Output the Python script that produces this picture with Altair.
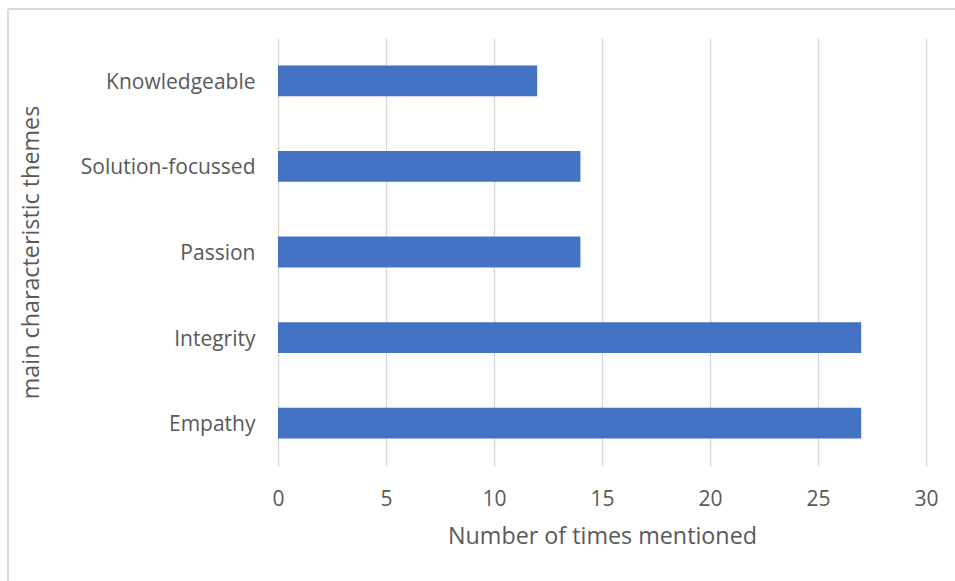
import altair as alt
import pandas as pd

categories = ["Knowledgeable", "Solution-focussed", "Passion", "Integrity", "Empathy"]
values = [12, 14, 14, 27, 27]
x_ticks = [0, 5, 10, 15, 20, 25, 30]

df = pd.DataFrame({"theme": categories, "count": values})

FONT = "Open Sans"
TXT = "#595959"
GRID = "#D9D9D9"

bars = alt.Chart(df).mark_bar(color="#4472C4").encode(
    x=alt.X(
        "count:Q",
        scale=alt.Scale(domain=[0, 30], nice=False),
        axis=alt.Axis(
            values=x_ticks,
            title="Number of times mentioned",
            grid=True,
            gridColor=GRID,
            gridWidth=1.5,
            domain=False,
            ticks=False,
            labelFlush=False,
            labelPadding=22,
            labelFontSize=21,
            labelColor=TXT,
            labelFont=FONT,
            titleFont=FONT,
            titleFontSize=23.3,
            titleFontWeight="normal",
            titleColor=TXT,
            titlePadding=16,
        ),
    ),
    y=alt.Y(
        "theme:N",
        sort=categories,
        scale=alt.Scale(paddingInner=0.64, paddingOuter=0.32),
        axis=alt.Axis(
            title="main characteristic themes",
            domain=False,
            ticks=False,
            grid=False,
            labelPadding=23,
            labelOffset=2,
            labelFontSize=21,
            labelColor=TXT,
            labelFont=FONT,
            titleFont=FONT,
            titleFontSize=23.3,
            titleFontWeight="normal",
            titleColor=TXT,
            titlePadding=37,
        ),
    ),
)

top_border = alt.Chart(df).mark_rule(color=GRID, strokeWidth=2).encode(
    x=alt.value(-270), x2=alt.value(700), y=alt.value(-29)
)
left_border = alt.Chart(df).mark_rule(color=GRID, strokeWidth=2).encode(
    x=alt.value(-270), y=alt.value(-29), y2=alt.value(600)
)

chart = alt.layer(top_border, left_border, bars).properties(
    width=648,
    height=428,
    autosize=alt.AutoSizeParams(type="none"),
    padding={"left": 278, "top": 38, "right": 29, "bottom": 115},
    background="white",
).configure_view(stroke=None)

chart.save("out.html", embed_options={"renderer": "svg", "actions": False})
